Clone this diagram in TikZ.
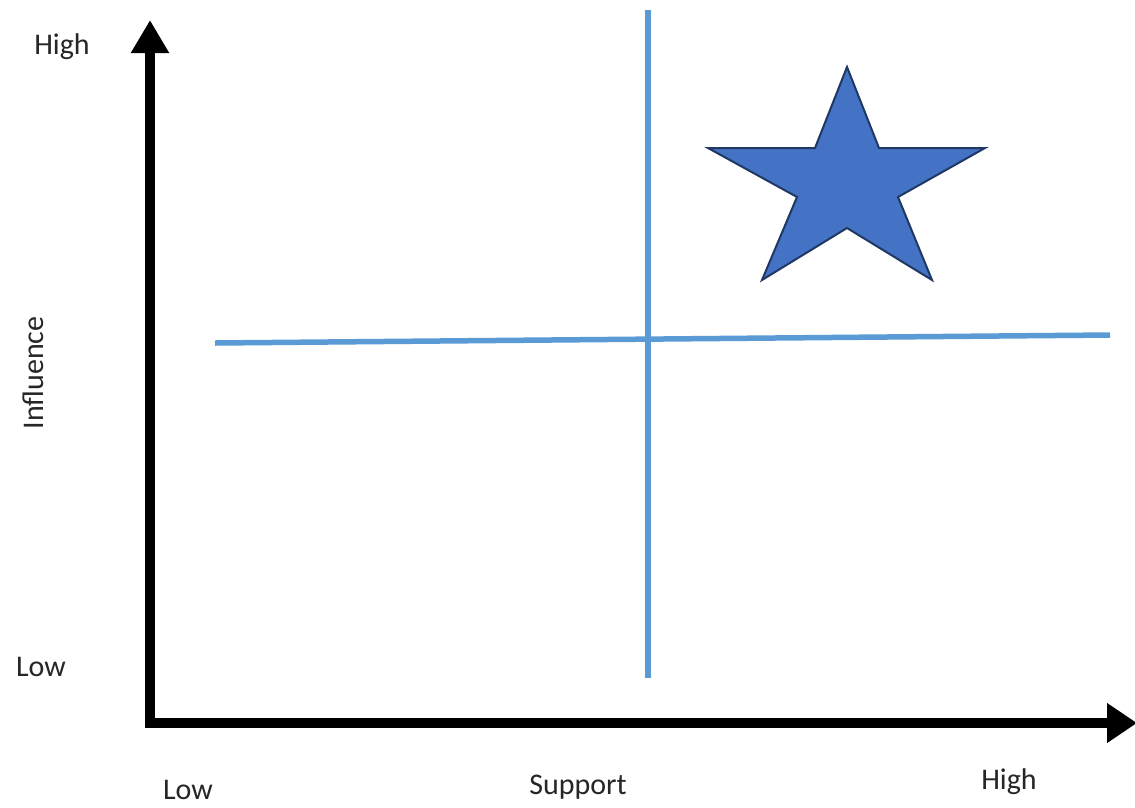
\documentclass[tikz,border=0pt]{standalone}
\usepackage{fontspec}
\setmainfont{Carlito}
\usetikzlibrary{arrows.meta}
\definecolor{quad}{HTML}{5B9BD5}
\definecolor{starfill}{HTML}{4472C4}
\definecolor{starline}{HTML}{1F3864}
\begin{document}
\begin{tikzpicture}[x=1pt,y=-1pt,
  lbl/.style={font=\fontsize{30}{34}\selectfont, text=black!85, inner sep=0pt},
  axis/.style={line width=10pt, {Triangle[length=33pt,width=36pt]}-{Triangle[length=30pt,width=38pt]}},
  quadline/.style={quad, line width=5.5pt},
  starshape/.style={fill=starfill, draw=starline, line width=2pt, line join=miter}]
\useasboundingbox (0,0) rectangle (1135,807);
\fill[white] (0,0) rectangle (1135,807);
% axes
\coordinate (ytop) at (150,20);
\coordinate (origin) at (150,723);
\coordinate (xend) at (1137,723);
\draw[axis] (ytop) -- (origin) -- (xend);
% quadrant lines
\coordinate (vtop) at (648,10);
\coordinate (vbot) at (648,678);
\coordinate (hl) at (215,343);
\coordinate (hr) at (1110,335);
\draw[quadline] (vtop) -- (vbot);
\draw[quadline] (hl) -- (hr);
% star
\draw[starshape] (847,67) -- (879,148) -- (985,148) -- (898,197) -- (932,280)
  -- (847,228) -- (762,280) -- (797,197) -- (708,148) -- (815,148) -- cycle;
% labels
\node[lbl] (yhigh) at (62,47) {High};
\node[lbl] (ylow) at (41,667) {Low};
\node[lbl, rotate=90] (ylab) at (33,373) {Influence};
\node[lbl] (xlow) at (188,790) {Low};
\node[lbl] (xlab) at (578,787) {Support};
\node[lbl] (xhigh) at (1009,782) {High};
\end{tikzpicture}
\end{document}
